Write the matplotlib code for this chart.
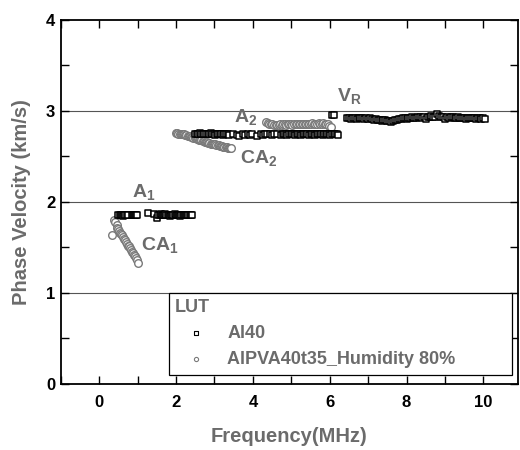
import matplotlib
matplotlib.use("Agg")
import matplotlib.pyplot as plt
from matplotlib.ticker import MultipleLocator

plt.rcParams['font.family'] = ['Liberation Sans', 'DejaVu Sans']
plt.rcParams['mathtext.default'] = 'regular'

# ---- data: Al40 (squares) ----
al_a1_x = [0.50, 0.53, 0.56, 0.59, 0.62, 0.65, 0.68, 0.71, 0.74, 0.84, 0.87, 0.90, 0.93, 0.96, 0.99,
           1.26, 1.43, 1.50, 1.54, 1.57, 1.60, 1.63, 1.66, 1.69, 1.72, 1.75, 1.78, 1.81, 1.84,
           1.87, 1.90, 1.93, 1.96, 1.99, 2.02, 2.05, 2.08, 2.11, 2.14, 2.17, 2.20, 2.23, 2.26,
           2.29, 2.32, 2.35, 2.38, 2.41]
al_a1_y = [1.86, 1.85, 1.86, 1.85, 1.84, 1.86, 1.85, 1.86, 1.85, 1.86, 1.85, 1.86, 1.85, 1.86, 1.85,
           1.88, 1.87, 1.82, 1.86, 1.85, 1.87, 1.86, 1.85, 1.86, 1.87, 1.85, 1.86, 1.85, 1.84,
           1.86, 1.85, 1.86, 1.87, 1.85, 1.86, 1.85, 1.86, 1.84, 1.86, 1.85, 1.86, 1.85, 1.86,
           1.85, 1.86, 1.85, 1.86, 1.85]
al_a2_x = [2.50, 2.54, 2.58, 2.62, 2.66, 2.70, 2.74, 2.78, 2.82, 2.86, 2.90, 2.94, 2.98,
           3.02, 3.06, 3.10, 3.14, 3.18, 3.22, 3.26, 3.30, 3.34, 3.38, 3.47, 3.58, 3.65,
           3.74, 3.80, 3.86, 3.92, 3.98, 4.12, 4.20, 4.26, 4.32, 4.38, 4.44, 4.50, 4.56,
           4.62, 4.73, 4.78, 4.82, 4.86, 4.90, 4.94, 4.98, 5.02, 5.06, 5.10, 5.14, 5.18,
           5.22, 5.26, 5.30, 5.34, 5.38, 5.42, 5.46, 5.50, 5.54, 5.58, 5.62, 5.66, 5.70,
           5.74, 5.78, 5.82, 5.86, 5.90, 5.94, 5.98, 6.02, 6.06, 6.10, 6.14, 6.18, 6.22]
al_a2_y = [2.75, 2.74, 2.75, 2.76, 2.75, 2.74, 2.75, 2.75, 2.74, 2.75, 2.76, 2.75, 2.74,
           2.73, 2.75, 2.74, 2.75, 2.74, 2.73, 2.74, 2.75, 2.74, 2.73, 2.74, 2.73, 2.72,
           2.74, 2.73, 2.74, 2.73, 2.74, 2.72, 2.74, 2.73, 2.74, 2.75, 2.74, 2.73, 2.75,
           2.74, 2.73, 2.74, 2.75, 2.74, 2.73, 2.74, 2.75, 2.74, 2.74, 2.73, 2.74, 2.75,
           2.74, 2.73, 2.74, 2.75, 2.74, 2.74, 2.73, 2.74, 2.75, 2.74, 2.73, 2.74, 2.75,
           2.74, 2.74, 2.73, 2.74, 2.75, 2.74, 2.74, 2.73, 2.74, 2.75, 2.74, 2.74, 2.73]
al_vr_x = [6.06, 6.10,
           6.45, 6.50, 6.55, 6.60, 6.65, 6.70, 6.75, 6.80, 6.85, 6.90, 6.95,
           7.00, 7.05, 7.10, 7.15, 7.20, 7.25, 7.30, 7.35, 7.40, 7.45, 7.50,
           7.55, 7.60, 7.65, 7.70, 7.75, 7.80, 7.85, 7.90, 7.95, 8.00, 8.05,
           8.10, 8.15, 8.20, 8.25, 8.30, 8.35, 8.40, 8.45, 8.50, 8.55, 8.60,
           8.65, 8.70, 8.75, 8.80, 8.85, 8.90, 8.95, 9.00, 9.05, 9.10, 9.15,
           9.20, 9.25, 9.30, 9.35, 9.40, 9.45, 9.50, 9.55, 9.60, 9.65, 9.70,
           9.75, 9.80, 9.85, 9.90, 9.95, 10.00, 10.05]
al_vr_y = [2.95, 2.95,
           2.92, 2.92, 2.91, 2.92, 2.92, 2.91, 2.92, 2.92, 2.92, 2.91, 2.92,
           2.91, 2.92, 2.91, 2.90, 2.91, 2.90, 2.90, 2.89, 2.90, 2.90, 2.89,
           2.89, 2.88, 2.89, 2.90, 2.90, 2.91, 2.91, 2.92, 2.92, 2.91, 2.92,
           2.92, 2.93, 2.92, 2.92, 2.93, 2.93, 2.92, 2.93, 2.91, 2.93, 2.93,
           2.94, 2.93, 2.93, 2.97, 2.94, 2.93, 2.93, 2.91, 2.93, 2.92, 2.93,
           2.93, 2.92, 2.92, 2.93, 2.92, 2.92, 2.92, 2.91, 2.92, 2.92, 2.92,
           2.92, 2.91, 2.92, 2.92, 2.91, 2.92, 2.91]
al_x = al_a1_x + al_a2_x + al_vr_x
al_y = al_a1_y + al_a2_y + al_vr_y

# ---- data: AlPVA40t35 Humidity 80% (circles) ----
pva_ca1_x = [0.34, 0.39, 0.42, 0.45, 0.47, 0.50, 0.52, 0.55, 0.57, 0.60, 0.62, 0.65, 0.67,
             0.70, 0.72, 0.75, 0.77, 0.80, 0.82, 0.85, 0.87, 0.90, 0.92, 0.95, 0.97, 1.00]
pva_ca1_y = [1.63, 1.80, 1.78, 1.75, 1.71, 1.70, 1.68, 1.66, 1.65, 1.63, 1.61, 1.59, 1.58,
             1.56, 1.54, 1.52, 1.51, 1.49, 1.47, 1.45, 1.44, 1.42, 1.40, 1.38, 1.36, 1.33]
pva_ca2_x = [2.00, 2.03, 2.06, 2.09, 2.12, 2.15, 2.18, 2.21, 2.24, 2.27, 2.30, 2.33,
             2.36, 2.39, 2.42, 2.45, 2.48, 2.51, 2.54, 2.57, 2.60, 2.63, 2.66, 2.69,
             2.72, 2.75, 2.78, 2.81, 2.84, 2.87, 2.90, 2.93, 2.96, 2.99, 3.02, 3.05,
             3.08, 3.11, 3.14, 3.17, 3.20, 3.23, 3.26, 3.29, 3.32, 3.35, 3.38, 3.41, 3.44]
pva_ca2_y = [2.76, 2.76, 2.75, 2.75, 2.75, 2.74, 2.74, 2.74, 2.73, 2.73, 2.72, 2.72,
             2.72, 2.71, 2.71, 2.70, 2.70, 2.70, 2.69, 2.69, 2.68, 2.68, 2.68, 2.67,
             2.67, 2.66, 2.66, 2.66, 2.65, 2.65, 2.64, 2.64, 2.64, 2.63, 2.63, 2.62,
             2.62, 2.62, 2.61, 2.61, 2.61, 2.60, 2.60, 2.60, 2.60, 2.59, 2.59, 2.59, 2.59]
pva_a2_x = [4.35, 4.39, 4.43, 4.47, 4.51, 4.55, 4.59, 4.63, 4.67, 4.71, 4.75, 4.79,
            4.83, 4.87, 4.91, 4.95, 4.99, 5.03, 5.07, 5.11, 5.15, 5.19, 5.23, 5.27,
            5.31, 5.35, 5.39, 5.43, 5.47, 5.51, 5.55, 5.59, 5.63, 5.67, 5.71, 5.75,
            5.79, 5.83, 5.87, 5.91, 5.95, 5.99, 6.03]
pva_a2_y = [2.88, 2.87, 2.86, 2.86, 2.85, 2.84, 2.84, 2.84, 2.84, 2.85, 2.84, 2.85,
            2.85, 2.84, 2.85, 2.85, 2.85, 2.84, 2.85, 2.85, 2.86, 2.85, 2.85, 2.86,
            2.85, 2.86, 2.86, 2.85, 2.86, 2.86, 2.87, 2.86, 2.86, 2.86, 2.87, 2.86,
            2.86, 2.87, 2.86, 2.86, 2.85, 2.83, 2.82]
pva_x = pva_ca1_x + pva_ca2_x + pva_a2_x
pva_y = pva_ca1_y + pva_ca2_y + pva_a2_y

mode_labels = ['A$_{1}$', 'CA$_{1}$', 'A$_{2}$', 'CA$_{2}$', 'V$_{R}$']
mode_label_x = [1.15, 1.57, 3.80, 4.14, 6.50]
mode_label_y = [2.11, 1.53, 2.93, 2.48, 3.16]

series_names = ['Al40', 'AlPVA40t35_Humidity 80%']
legend_title = 'LUT'

gray = '#6b6b6b'

fig = plt.figure(figsize=(5.2, 4.5), dpi=100)
ax = fig.add_axes([0.117, 0.147, 0.879, 0.809])

for yv in [1, 2, 3]:
    ax.axhline(yv, color='#555555', lw=0.8, zorder=0)

ax.scatter(pva_x, pva_y, s=30, marker='o', facecolors='white', edgecolors='#7a7a7a',
           linewidths=1.0, label=series_names[1], zorder=2)
ax.scatter(al_x, al_y, s=20, marker='s', facecolors='white', edgecolors='black',
           linewidths=1.1, label=series_names[0], zorder=3)

for t, x, y in zip(mode_labels, mode_label_x, mode_label_y):
    ax.text(x, y, t, color=gray, fontsize=14, fontweight='bold', ha='center', va='center')

ax.set_xlim(-1, 10.9)
ax.set_ylim(0, 4)
ax.xaxis.set_major_locator(MultipleLocator(2))
ax.xaxis.set_minor_locator(MultipleLocator(1))
ax.yaxis.set_major_locator(MultipleLocator(1))
ax.yaxis.set_minor_locator(MultipleLocator(0.5))
ax.tick_params(which='both', direction='in', top=True, right=True, width=1.0)
ax.tick_params(which='major', length=6)
ax.tick_params(which='minor', length=6)
for lab in ax.get_xticklabels() + ax.get_yticklabels():
    lab.set_fontweight('bold')
    lab.set_fontsize(12)
ax.tick_params(axis='x', pad=8)
ax.tick_params(axis='y', pad=4)
for sp in ax.spines.values():
    sp.set_linewidth(1.3)

ax.set_xlabel('Frequency(MHz)', fontsize=14.5, fontweight='bold', color=gray, labelpad=12)
ax.set_ylabel('Phase Velocity (km/s)', fontsize=14.5, fontweight='bold', color=gray, labelpad=11)

h, l = ax.get_legend_handles_labels()
leg = ax.legend([h[1], h[0]], [l[1], l[0]], title=legend_title, loc='upper left',
                bbox_to_anchor=(0.236, 0.0, 0.751, 0.25), mode='expand', borderaxespad=0,
                frameon=True, fancybox=False, edgecolor='black', framealpha=1,
                prop={'weight': 'bold', 'size': 13}, alignment='left',
                handlelength=2.3, handletextpad=0.6, borderpad=0.35, labelspacing=0.5,
                markerscale=0.55)
leg.get_frame().set_linewidth(0.9)
leg.get_title().set_fontweight('bold')
leg.get_title().set_fontsize(13)
leg.get_title().set_color(gray)
for t in leg.get_texts():
    t.set_color(gray)
for hd in leg.legend_handles:
    hd.set_linewidth(0.8)

fig.savefig('out.png', dpi=100)
